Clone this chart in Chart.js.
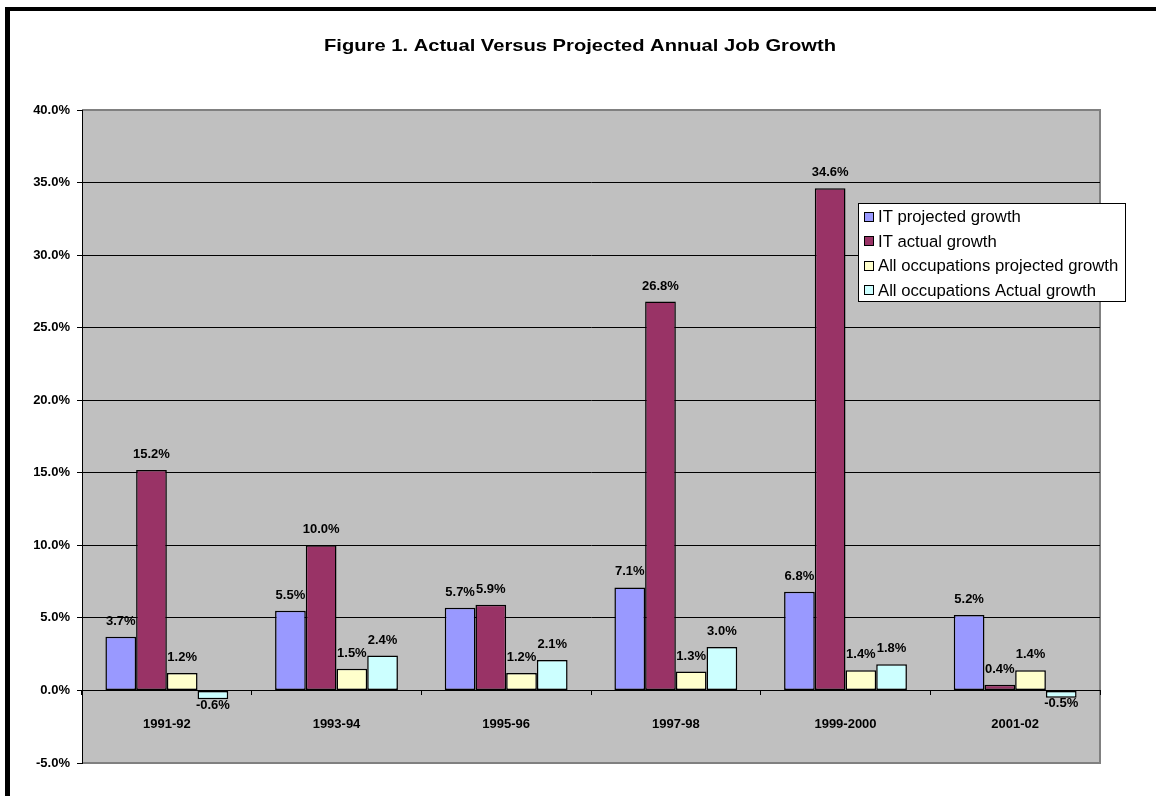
<!DOCTYPE html>
<html>
<head>
<meta charset="utf-8">
<script src="https://cdn.jsdelivr.net/npm/chart.js@4.4.1/dist/chart.umd.min.js"></script>
<style>
  html, body { margin: 0; padding: 0; background: #fff; }
  #wrap { position: relative; width: 1156px; height: 796px; overflow: hidden; }
  #frame { position: absolute; left: 5px; top: 7px; width: 1300px; height: 900px;
           border-left: 5px solid #000; border-top: 4px solid #000; }
  canvas { position: absolute; left: 0; top: 0; }
</style>
</head>
<body>
<div id="wrap">
  <div id="frame"></div>
  <canvas id="c" width="1156" height="796"></canvas>
</div>
<script>
const titleText = 'Figure 1. Actual Versus Projected Annual Job Growth';
const categories = ['1991-92', '1993-94', '1995-96', '1997-98', '1999-2000', '2001-02'];
const seriesNames = ['IT projected growth', 'IT actual growth', 'All occupations projected growth', 'All occupations Actual growth'];
const itProjected = [3.7, 5.5, 5.7, 7.1, 6.8, 5.2];
const itActual = [15.2, 10.0, 5.9, 26.8, 34.6, 0.4];
const allProjected = [1.2, 1.5, 1.2, 1.3, 1.4, 1.4];
const allActual = [-0.6, 2.4, 2.1, 3.0, 1.8, -0.5];
const seriesColors = ['#9999FF', '#993366', '#FFFFCC', '#CCFFFF'];
const yMin = -5, yMax = 40, yStep = 5;

const FONT = '"Liberation Sans", Arial, sans-serif';

const plotBg = {
  id: 'plotBg',
  beforeDraw(chart) {
    const {ctx, chartArea: a} = chart;
    ctx.save();
    ctx.fillStyle = '#C0C0C0';
    ctx.fillRect(a.left, a.top, a.right - a.left, a.bottom - a.top);
    ctx.strokeStyle = '#808080';
    ctx.lineWidth = 2;
    ctx.beginPath();
    ctx.moveTo(a.left, a.top);
    ctx.lineTo(a.right, a.top);
    ctx.lineTo(a.right, a.bottom);
    ctx.lineTo(a.left, a.bottom);
    ctx.stroke();
    ctx.restore();
  }
};

const wideTitle = {
  id: 'wideTitle',
  afterDraw(chart) {
    const {ctx} = chart;
    ctx.save();
    ctx.font = 'bold 16.5px ' + FONT;
    ctx.fillStyle = '#000';
    ctx.textAlign = 'center';
    ctx.textBaseline = 'alphabetic';
    const w = ctx.measureText(titleText).width;
    const sx = 512 / w;
    ctx.translate(580, 51);
    ctx.scale(sx, 1);
    ctx.fillText(titleText, 0, 0);
    ctx.restore();
  }
};

const dataLabels = {
  id: 'dataLabels',
  afterDatasetsDraw(chart) {
    const {ctx} = chart;
    ctx.save();
    ctx.font = 'bold 13px ' + FONT;
    ctx.fillStyle = '#000';
    ctx.textAlign = 'center';
    ctx.textBaseline = 'middle';
    chart.data.datasets.forEach((ds, di) => {
      const meta = chart.getDatasetMeta(di);
      meta.data.forEach((bar, i) => {
        const v = ds.data[i];
        const y = v >= 0 ? bar.y - 15.5 : bar.y + 6;
        ctx.fillText(v.toFixed(1) + '%', bar.x, y);
      });
    });
    ctx.restore();
  }
};

const boxLegend = {
  id: 'boxLegend',
  afterDraw(chart) {
    const {ctx} = chart;
    const x0 = 858, y0 = 203, w = 268, h = 99;
    ctx.save();
    ctx.fillStyle = '#fff';
    ctx.fillRect(x0, y0, w, h);
    ctx.strokeStyle = '#000';
    ctx.lineWidth = 1;
    ctx.strokeRect(x0 + 0.5, y0 + 0.5, w - 1, h - 1);
    ctx.font = '16.7px ' + FONT;
    ctx.textAlign = 'left';
    ctx.textBaseline = 'middle';
    chart.data.datasets.forEach((ds, i) => {
      const cy = 216.5 + i * 24.5;
      ctx.fillStyle = ds.backgroundColor;
      ctx.fillRect(864, Math.round(cy - 5), 9, 9);
      ctx.strokeStyle = '#000';
      ctx.strokeRect(864.5, Math.round(cy - 5) + 0.5, 9, 9);
      ctx.fillStyle = '#000';
      ctx.fillText(ds.label, 878, cy + 1);
    });
    ctx.restore();
  }
};

const seriesData = [itProjected, itActual, allProjected, allActual];

new Chart(document.getElementById('c'), {
  type: 'bar',
  data: {
    labels: categories,
    datasets: seriesNames.map((name, i) => ({
      label: name,
      data: seriesData[i],
      backgroundColor: seriesColors[i],
      borderColor: '#000',
      borderWidth: 1.5,
      borderSkipped: false,
      categoryPercentage: 0.724,
      barPercentage: 1.0
    }))
  },
  options: {
    responsive: false,
    animation: false,
    devicePixelRatio: 1,
    layout: { padding: { left: 0, right: 56, top: 110, bottom: 33 } },
    plugins: {
      legend: { display: false },
      tooltip: { enabled: false },
      title: { display: false }
    },
    scales: {
      x: {
        type: 'category',
        position: { y: 0 },
        offset: true,
        afterFit(s) { s.height = 0; },
        grid: { display: true, drawOnChartArea: false, drawTicks: true, tickLength: 4, color: '#000', tickColor: '#000', offset: true },
        border: { display: true, color: '#000', width: 1 },
        ticks: { color: '#000', font: { family: FONT, size: 13, weight: 'bold' }, padding: 22, maxRotation: 0, autoSkip: false }
      },
      y: {
        min: yMin,
        max: yMax,
        afterFit(s) { s.width = 82; },
        grid: {
          color: (c) => (c.tick && (c.tick.value === yMax || c.tick.value === yMin)) ? '#808080' : '#000',
          tickColor: '#000',
          tickLength: 5,
          drawTicks: true
        },
        border: { display: true, color: '#000', width: 1 },
        ticks: {
          stepSize: yStep,
          color: '#000',
          padding: 7,
          font: { family: FONT, size: 13, weight: 'bold' },
          callback: (v) => Number(v).toFixed(1) + '%'
        }
      }
    }
  },
  plugins: [plotBg, dataLabels, boxLegend, wideTitle]
});
</script>
</body>
</html>
